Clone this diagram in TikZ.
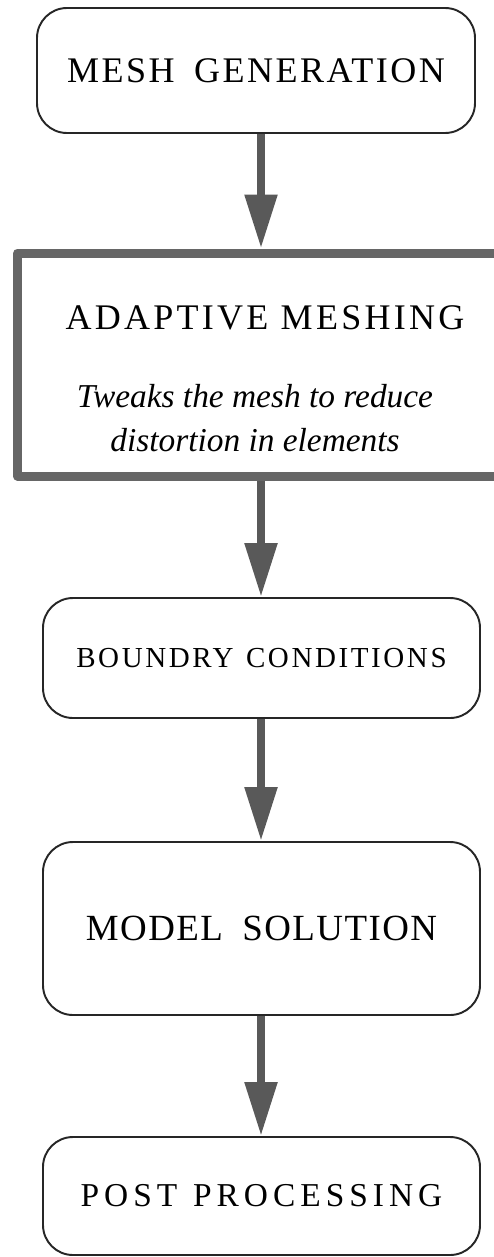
\documentclass[tikz,border=0pt]{standalone}
\usepackage{fontspec}
\setmainfont{Liberation Serif}
\usetikzlibrary{arrows.meta}
\newcommand{\stagefont}[3]{\fontsize{#1}{#1}\selectfont\addfontfeature{LetterSpace=#2}\spaceskip=#3\relax}
\tikzset{
  stage/.style={draw=black!85, line width=1.1pt, rounded corners=0.6cm, minimum width=8.74cm, inner sep=0pt},
  flow/.style={draw=black!65, line width=0.17cm, -{Triangle[length=1.08cm,width=0.62cm]}},
}
\begin{document}
\begin{tikzpicture}[line join=round]
            \useasboundingbox (0,0) rectangle (9.86,-25.14);
            \coordinate (axis) at (5.22,0);
            \node[stage, minimum width=8.76cm, minimum height=2.5cm, font={\stagefont{20.5}{7}{11pt}}] (mesh) at (5.12,-1.41) {MESH GENERATION};
            \node[draw=black!60, line width=0.18cm, minimum width=9.65cm, minimum height=4.46cm] (adapt) at (5.175,-7.29) {};
            \node[font={\stagefont{20.5}{9}{7pt}}] (adapttitle) at (5.3,-6.36) {ADAPTIVE MESHING};
            \node[align=center, font=\fontsize{19}{25}\selectfont\itshape] (adaptnote) at (5.1,-8.36) {Tweaks the mesh to reduce\\distortion in elements};
            \node[stage, minimum height=2.4cm, font={\stagefont{16.5}{9}{7pt}}] (bc) at (5.23,-13.16) {BOUNDRY CONDITIONS};
            \node[stage, minimum height=3.46cm, font={\stagefont{21}{4}{11pt}}] (model) at (5.23,-18.57) {MODEL SOLUTION};
            \node[stage, minimum height=2.36cm, font={\stagefont{19}{15}{9pt}}] (post) at (5.23,-23.92) {POST PROCESSING};
            \foreach \a/\b in {mesh/adapt,adapt/bc,bc/model,model/post}
            \draw[flow] (\a.south -| axis)--(\b.north -| axis);
    \end{tikzpicture}
\end{document}
